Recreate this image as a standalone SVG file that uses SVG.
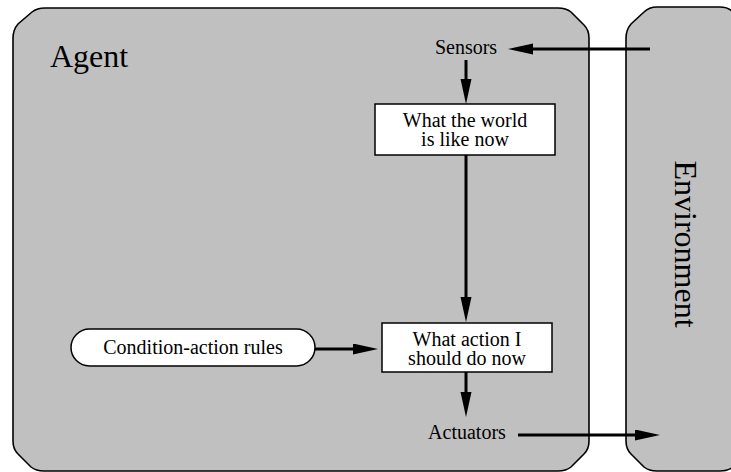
<svg xmlns="http://www.w3.org/2000/svg" width="731" height="472" viewBox="0 0 731 472">
<style>
.shape{fill:#c0c0c0;stroke:#000;stroke-width:1.6}
.box{fill:#fff;stroke:#000;stroke-width:1.5}
.t{font-family:"Liberation Serif","Times New Roman",serif;font-size:20px;fill:#000;text-anchor:middle}
.big{font-family:"Liberation Serif","Times New Roman",serif;font-size:32px;fill:#000}
.c{stroke:#000;stroke-width:3;fill:none;marker-end:url(#ah)}
</style>
<defs>
<marker id="ah" markerUnits="userSpaceOnUse" markerWidth="26" markerHeight="12" refX="5" refY="5.5" orient="auto">
<path d="M0,0 L25,5.5 L0,11 Z" fill="#000"/>
</marker>
</defs>
<g id="agent">
<path class="shape" d="M13,38 Q13,30 18,24 L32,12 Q37,8 45,8 L558,8 Q566,8 571,12 L584,25 Q589,30 589,38 L589,441 Q589,449 584,454 L571,467 Q566,471 558,471 L44,471 Q36,471 31,467 L18,454 Q13,449 13,441 Z"/>
<text class="big" x="50" y="67">Agent</text>
</g>
<g id="environment">
<path class="shape" d="M626,38 Q626,30 631,24 L644,12 Q649,7 657,7 L720,7 Q728,7 733,12 L747,25 Q752,30 752,38 L752,441 Q752,449 747,454 L733,467 Q728,471 720,471 L657,471 Q649,471 644,467 L631,454 Q626,449 626,441 Z"/>
<text class="big" style="text-anchor:middle" transform="translate(675,244) rotate(90)">Environment</text>
</g>
<g id="sensors">
<text class="t" x="466" y="54">Sensors</text>
</g>
<g id="world">
<rect class="box" x="375" y="104" width="180" height="51"/>
<text class="t" x="465" y="127">What the world</text>
<text class="t" x="465" y="146">is like now</text>
</g>
<g id="action">
<rect class="box" x="382" y="323" width="170" height="49"/>
<text class="t" x="467" y="346">What action I</text>
<text class="t" x="467" y="365">should do now</text>
</g>
<g id="rules">
<rect class="box" x="71" y="329" width="244" height="37" rx="18.5" ry="18.5"/>
<text class="t" x="193" y="354">Condition-action rules</text>
</g>
<g id="actuators">
<text class="t" x="467" y="439">Actuators</text>
</g>
<g id="connectors">
<line class="c" x1="650" y1="49" x2="528" y2="49"/>
<line class="c" x1="466" y1="60" x2="466" y2="84"/>
<line class="c" x1="466" y1="155" x2="466" y2="302"/>
<line class="c" x1="315" y1="349" x2="358" y2="349"/>
<line class="c" x1="466" y1="372" x2="466" y2="397"/>
<line class="c" x1="518" y1="435" x2="640" y2="435"/>
</g>
</svg>
